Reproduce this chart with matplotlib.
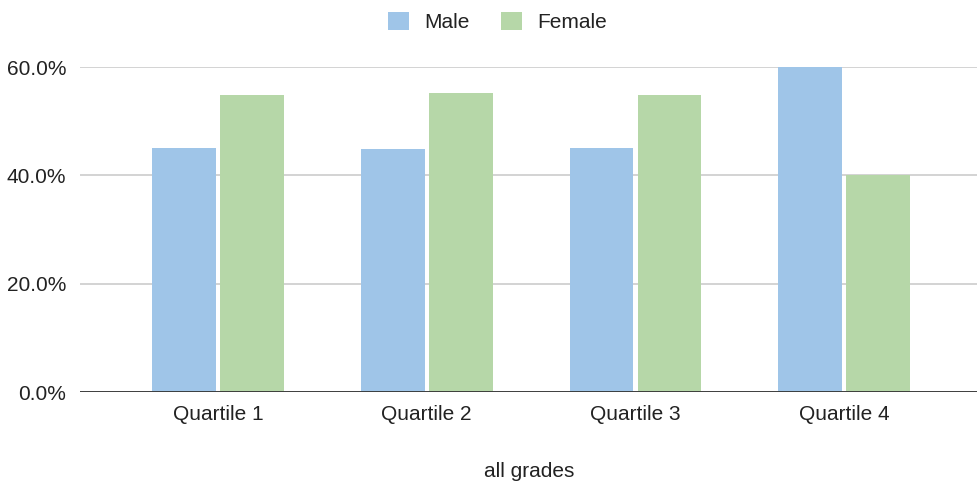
import matplotlib.pyplot as plt
import numpy as np
from matplotlib.ticker import FuncFormatter

plt.rcParams['font.family'] = ['Liberation Sans', 'DejaVu Sans']

# --- Data ---
quartiles = ['Quartile 1', 'Quartile 2', 'Quartile 3', 'Quartile 4']
male = [45.1, 44.8, 45.1, 60.0]
female = [54.9, 55.2, 54.9, 40.0]

male_color = '#9fc5e8'
female_color = '#b6d7a8'
text_color = '#222222'

fig = plt.figure(figsize=(9.78, 4.83), dpi=100)
ax = fig.add_axes([80 / 978, 91 / 483, 898 / 978, 325 / 483])

x = np.arange(len(quartiles))
w = 0.306
off = 0.163
ax.bar(x - off, male, width=w, color=male_color, label='Male', zorder=3)
ax.bar(x + off, female, width=w, color=female_color, label='Female', zorder=3)

ax.set_xlim(-0.66, 3.64)
ax.set_ylim(0, 60)
ax.set_yticks([0, 20, 40, 60])
ax.yaxis.set_major_formatter(FuncFormatter(lambda v, p: f'{v:.1f}%'))
ax.grid(axis='y', color='#cccccc', linewidth=1.2, zorder=0)
ax.axhline(0, color='#333333', linewidth=1.3, zorder=4)

for s in ax.spines.values():
    s.set_visible(False)
ax.tick_params(axis='both', length=0, labelsize=15, colors=text_color)
ax.tick_params(axis='y', pad=10)
ax.tick_params(axis='x', pad=9.5)
ax.set_xticks(x)
ax.set_xticklabels(quartiles)

ax.set_xlabel('all grades', fontsize=15, color=text_color, labelpad=27)

fig.legend(loc='upper center', bbox_to_anchor=(0.509, 1.015), ncol=2, frameon=False,
           fontsize=15, handlelength=1.0, handleheight=1.0, columnspacing=1.5,
           handletextpad=0.75, labelcolor=text_color)

fig.savefig('out.png', dpi=100)
